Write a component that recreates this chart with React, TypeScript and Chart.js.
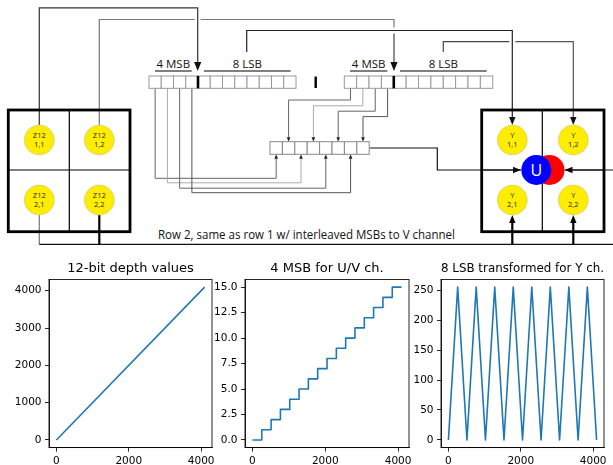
import React, { useEffect, useRef } from "react";
import { Chart, registerables } from "chart.js";

Chart.register(...registerables);

// ---------- data ----------
const depthX = [0, 4095];
const depthY = [0, 4095];
const msbX = [0, 256, 512, 768, 1024, 1280, 1536, 1792, 2048, 2304, 2560, 2816, 3072, 3328, 3584, 3840, 4095];
const msbY = [0, 1, 2, 3, 4, 5, 6, 7, 8, 9, 10, 11, 12, 13, 14, 15, 15];
const lsbX = [0, 256, 512, 768, 1024, 1280, 1536, 1792, 2048, 2304, 2560, 2816, 3072, 3328, 3584, 3840, 4095];
const lsbY = [0, 255, 0, 255, 0, 255, 0, 255, 0, 255, 0, 255, 0, 255, 0, 255, 0];
const xTickValues = [0, 2000, 4000];
const depthTicks = [0, 1000, 2000, 3000, 4000];
const msbTicks = [0, 2.5, 5, 7.5, 10, 12.5, 15];
const lsbTicks = [0, 50, 100, 150, 200, 250];
const panelTitles = ["12-bit depth values", "4 MSB for U/V ch.", "8 LSB transformed for Y ch."];

// ---------- layout constants ----------
const CANVAS_TOP = 250;
const CANVAS_H = 215;
const PLOT_TOP = 279.5;
const PLOT_BOTTOM = 447.6;

const frame = {
  id: "frame",
  afterDraw(chart: any) {
    const { ctx, chartArea: a } = chart;
    ctx.save();
    ctx.strokeStyle = "#000";
    ctx.lineWidth = 0.85;
    ctx.strokeRect(a.left, a.top, a.right - a.left, a.bottom - a.top);
    ctx.restore();
  },
};

function padRange(vals: number[]) {
  const mn = Math.min(...vals);
  const mx = Math.max(...vals);
  const p = (mx - mn) * 0.05;
  return [mn - p, mx + p];
}

type PanelProps = {
  left: number;
  width: number;
  plotLeft: number;
  plotRight: number;
  title: string;
  xs: number[];
  ys: number[];
  yTicks: number[];
  yDecimals: number;
  stepped?: boolean;
};

function Panel(p: PanelProps) {
  const ref = useRef<HTMLCanvasElement>(null);
  useEffect(() => {
    if (!ref.current) return;
    const [xMin, xMax] = padRange(p.xs);
    const [yMin, yMax] = padRange(p.ys);
    const titleH = PLOT_TOP - CANVAS_TOP;
    const grid = {
      display: true,
      drawOnChartArea: false,
      drawTicks: true,
      tickLength: 4,
      color: "#000",
      lineWidth: 0.85,
    };
    const border = { display: true, color: "#000", width: 0.85 };
    const chart = new Chart(ref.current, {
      type: "line",
      data: {
        datasets: [
          {
            data: p.xs.map((x, i) => ({ x, y: p.ys[i] })),
            borderColor: "#1f77b4",
            borderWidth: 1.6,
            pointRadius: 0,
            tension: 0,
            fill: false,
            stepped: p.stepped ? "before" : false,
            borderJoinStyle: "round",
          } as any,
        ],
      },
      options: {
        responsive: false,
        animation: false,
        events: [],
        layout: { padding: { left: 0, right: p.width - p.plotRight, top: 0, bottom: 0 } },
        plugins: {
          legend: { display: false },
          tooltip: { enabled: false },
          title: {
            display: true,
            text: p.title,
            fullSize: false,
            color: "#000",
            font: { size: 13, family: "DejaVu Sans", weight: "normal" },
            padding: { top: 10.5, bottom: titleH - 10.5 - 15.6 },
          },
        },
        scales: {
          x: {
            type: "linear",
            min: xMin,
            max: xMax,
            afterBuildTicks: (s: any) => {
              s.ticks = xTickValues.map((v) => ({ value: v }));
            },
            afterFit: (s: any) => {
              s.height = CANVAS_TOP + CANVAS_H - PLOT_BOTTOM;
            },
            grid,
            border,
            ticks: {
              color: "#000",
              font: { size: 10.5, family: "DejaVu Sans" },
              padding: 3,
              maxRotation: 0,
              autoSkip: false,
              callback: (v: any) => String(v),
            },
          },
          y: {
            type: "linear",
            min: yMin,
            max: yMax,
            afterBuildTicks: (s: any) => {
              s.ticks = p.yTicks.map((v) => ({ value: v }));
            },
            afterFit: (s: any) => {
              s.width = p.plotLeft;
            },
            grid,
            border,
            ticks: {
              color: "#000",
              font: { size: 10.5, family: "DejaVu Sans" },
              padding: 3.5,
              autoSkip: false,
              callback: (v: any) => Number(v).toFixed(p.yDecimals),
            },
          },
        },
      } as any,
      plugins: [frame],
    });
    return () => chart.destroy();
  }, []);
  return (
    <canvas
      ref={ref}
      width={p.width}
      height={CANVAS_H}
      style={{ position: "absolute", left: p.left, top: CANVAS_TOP, width: p.width, height: CANVAS_H }}
    />
  );
}

// ---------- diagram helpers ----------
function Arrow({ x, y, dir, len = 8, hw = 3.5, color = "#000" }: any) {
  let pts = "";
  if (dir === "down") pts = `${x},${y} ${x - hw},${y - len} ${x + hw},${y - len}`;
  if (dir === "up") pts = `${x},${y} ${x - hw},${y + len} ${x + hw},${y + len}`;
  if (dir === "right") pts = `${x},${y} ${x - len},${y - hw} ${x - len},${y + hw}`;
  if (dir === "left") pts = `${x},${y} ${x + len},${y - hw} ${x + len},${y + hw}`;
  return <polygon points={pts} fill={color} />;
}

function Register({ x0, y0, w, h, n, stroke = "#999" }: any) {
  const cells = [];
  for (let i = 0; i < n; i++) {
    cells.push(
      <rect key={i} x={x0 + i * w} y={y0} width={w} height={h} fill="#fff" stroke={stroke} strokeWidth={1} />
    );
  }
  return <g>{cells}</g>;
}

function Dot({ cx, cy, a, b }: any) {
  return (
    <g>
      <circle cx={cx} cy={cy} r={15} fill="#ffed00" stroke="#c9c38a" strokeWidth={0.6} />
      <text x={cx} y={cy - 2} textAnchor="middle" fontSize={7.5} fontFamily="Open Sans" fill="#222">
        {a}
      </text>
      <text x={cx} y={cy + 6.5} textAnchor="middle" fontSize={7.5} fontFamily="Open Sans" fill="#222">
        {b}
      </text>
    </g>
  );
}

function Diagram() {
  const reg1X = 149;
  const reg1W = 12.25;
  const reg2X = 344.3;
  const reg2W = 12.37;
  const smX = 270;
  const smW = 12.4;
  const regY = 76;
  const regH = 12.3;
  const smY = 141.7;
  const smH = 12.6;
  const src1 = [0, 1, 2, 3].map((i) => reg1X + reg1W * (i + 0.5));
  const src2 = [0, 1, 2, 3].map((i) => reg2X + reg2W * (i + 0.5));
  const low1 = [178.3, 182.8, 188.2, 192.7];
  const mid2 = [100, 105.8, 111.2, 116.6];
  const col = ["#666", "#aaa", "#666", "#555"];
  const font = "Open Sans";
  return (
    <svg
      width={613}
      height={250}
      style={{ position: "absolute", left: 0, top: 0 }}
      xmlns="http://www.w3.org/2000/svg"
    >
      <g fill="none" strokeWidth={1.2}>
        {/* Z12 1,1 -> register 1 */}
        <polyline points="39.3,125 39.3,7.8 197.7,7.8 197.7,63" stroke="#333" />
        {/* Z12 1,2 -> register 2 */}
        <polyline points="99.3,125 99.3,19.5 194.8,19.5" stroke="#777" />
        <polyline points="200.6,19.5 394,19.5 394,27.5" stroke="#777" />
        <polyline points="394,33.5 394,63" stroke="#444" />
        {/* reg1 LSB -> Y 1,1 */}
        <polyline points="246.7,52 246.7,30.5 512.3,30.5 512.3,118" stroke="#222" />
        {/* reg2 LSB -> Y 1,2 */}
        <polyline points="443.3,52 443.3,41.7 509.3,41.7" stroke="#444" />
        <polyline points="515.3,41.7 573.3,41.7 573.3,118" stroke="#555" />
        {/* reg1 MSBs -> small register (odd cells) */}
        {src1.map((sx, i) => (
          <polyline
            key={"a" + i}
            points={`${sx},${regY + regH} ${sx},${low1[i]} ${smX + smW * (2 * i + 0.5)},${low1[i]} ${smX + smW * (2 * i + 0.5)},${smY + smH + 4}`}
            stroke={col[i]}
            strokeWidth={1}
          />
        ))}
        {/* reg2 MSBs -> small register (even cells) */}
        {src2.map((sx, i) => (
          <polyline
            key={"b" + i}
            points={`${sx},${regY + regH} ${sx},${mid2[i]} ${smX + smW * (2 * i + 1.5)},${mid2[i]} ${smX + smW * (2 * i + 1.5)},${smY - 4}`}
            stroke={col[i]}
            strokeWidth={1}
          />
        ))}
        {/* small register -> U */}
        <polyline points="369.3,148 437.3,148 437.3,170 514,170" stroke="#111" />
        {/* from right -> V */}
        <polyline points="613,170 572,170" stroke="#111" />
        {/* bottom row */}
        <polyline points="39.3,215 39.3,244.3" stroke="#777" />
        <polyline points="39.3,244.3 613,244.3" stroke="#111" />
        <polyline points="99.3,215 99.3,244.3" stroke="#000" strokeWidth={2.2} />
        <polyline points="512.3,244.3 512.3,222" stroke="#000" strokeWidth={2.2} />
        <polyline points="573.3,244.3 573.3,222" stroke="#000" strokeWidth={2.2} />
      </g>
      {/* arrowheads */}
      <Arrow x={197.7} y={71} dir="down" len={9} hw={3.6} color="#111" />
      <Arrow x={394} y={71} dir="down" len={9} hw={3.6} color="#111" />
      <Arrow x={512.3} y={125} dir="down" len={8} hw={3.2} color="#111" />
      <Arrow x={573.3} y={125} dir="down" len={8} hw={3.2} color="#111" />
      {src1.map((_, i) => (
        <Arrow key={"ua" + i} x={smX + smW * (2 * i + 0.5)} y={smY + smH} dir="up" len={4.5} hw={1.8} color="#222" />
      ))}
      {src2.map((_, i) => (
        <Arrow key={"da" + i} x={smX + smW * (2 * i + 1.5)} y={smY} dir="down" len={4.5} hw={1.8} color="#222" />
      ))}
      <Arrow x={521} y={170} dir="right" len={8} hw={3.2} color="#111" />
      <Arrow x={564.5} y={170} dir="left" len={8} hw={3.2} color="#111" />
      <Arrow x={512.3} y={215} dir="up" len={8} hw={3.2} color="#000" />
      <Arrow x={573.3} y={215} dir="up" len={8} hw={3.2} color="#000" />

      {/* registers */}
      <Register x0={reg1X} y0={regY} w={reg1W} h={regH} n={12} />
      <Register x0={reg2X} y0={regY} w={reg2W} h={regH} n={12} />
      <Register x0={smX} y0={smY} w={smW} h={smH} n={8} stroke="#888" />
      <line x1={reg1X + 4 * reg1W} y1={regY} x2={reg1X + 4 * reg1W} y2={regY + regH} stroke="#000" strokeWidth={2.6} />
      <line x1={reg2X + 4 * reg2W} y1={regY} x2={reg2X + 4 * reg2W} y2={regY + regH} stroke="#000" strokeWidth={2.6} />
      <line x1={315.7} y1={76.5} x2={315.7} y2={88} stroke="#000" strokeWidth={2.4} />

      {/* register labels */}
      <g fontFamily={font} fontSize={11.5} fill="#111" textAnchor="middle">
        <text x={173.3} y={68}>4 MSB</text>
        <text x={247.3} y={68}>8 LSB</text>
        <text x={368.7} y={68}>4 MSB</text>
        <text x={443.3} y={68}>8 LSB</text>
      </g>
      <g stroke="#000" strokeWidth={1}>
        <line x1={155} y1={71} x2={191.7} y2={71} />
        <line x1={204} y1={71} x2={290.7} y2={71} />
        <line x1={350} y1={71} x2={387.3} y2={71} />
        <line x1={400} y1={71} x2={486.7} y2={71} />
      </g>

      {/* left box */}
      <rect x={8.3} y={110} width={121.7} height={121.7} fill="none" stroke="#000" strokeWidth={2.8} />
      <line x1={69.3} y1={110} x2={69.3} y2={231.7} stroke="#000" strokeWidth={1.2} />
      <line x1={8.3} y1={170} x2={130} y2={170} stroke="#000" strokeWidth={1.2} />
      {/* right box */}
      <rect x={481.7} y={110} width={122.3} height={121.7} fill="none" stroke="#000" strokeWidth={2.8} />
      <line x1={542.3} y1={110} x2={542.3} y2={231.7} stroke="#000" strokeWidth={1.2} />
      <line x1={481.7} y1={170} x2={521} y2={170} stroke="#000" strokeWidth={1.2} />
      <line x1={564.5} y1={170} x2={604} y2={170} stroke="#000" strokeWidth={1.2} />

      <Dot cx={39.3} cy={140} a="Z12" b="1,1" />
      <Dot cx={99.3} cy={140} a="Z12" b="1,2" />
      <Dot cx={39.3} cy={200} a="Z12" b="2,1" />
      <Dot cx={99.3} cy={200} a="Z12" b="2,2" />
      <Dot cx={512.3} cy={140} a="Y" b="1,1" />
      <Dot cx={573.3} cy={140} a="Y" b="1,2" />
      <Dot cx={512.3} cy={200} a="Y" b="2,1" />
      <Dot cx={573.3} cy={200} a="Y" b="2,2" />

      {/* U / V */}
      <circle cx={549.5} cy={170} r={15} fill="#ff0000" />
      <text x={546.5} y={175.5} textAnchor="middle" fontFamily={font} fontSize={15} fill="#fff">V</text>
      <circle cx={536.3} cy={170} r={15} fill="#0000ff" />
      <text x={536.3} y={175.8} textAnchor="middle" fontFamily={font} fontSize={16} fill="#fff">U</text>

      {/* caption */}
      <text
        x={306.5}
        y={238.5}
        textAnchor="middle"
        fontFamily={font}
        fontSize={12}
        fill="#111"
        textLength={297}
        lengthAdjust="spacingAndGlyphs"
      >
        Row 2, same as row 1 w/ interleaved MSBs to V channel
      </text>
    </svg>
  );
}

export default function App() {
  useEffect(() => {
    Chart.defaults.font.family = "DejaVu Sans";
  }, []);
  return (
    <div style={{ position: "absolute", left: 0, top: 0, width: 613, height: 465, background: "#fff", overflow: "hidden" }}>
      <Diagram />
      <Panel left={0} width={226} plotLeft={49} plotRight={212} title={panelTitles[0]} xs={depthX} ys={depthY} yTicks={depthTicks} yDecimals={0} />
      <Panel left={205} width={218} plotLeft={40} plotRight={204} title={panelTitles[1]} xs={msbX} ys={msbY} yTicks={msbTicks} yDecimals={1} stepped />
      <Panel left={400} width={213} plotLeft={41} plotRight={204} title={panelTitles[2]} xs={lsbX} ys={lsbY} yTicks={lsbTicks} yDecimals={0} />
    </div>
  );
}
